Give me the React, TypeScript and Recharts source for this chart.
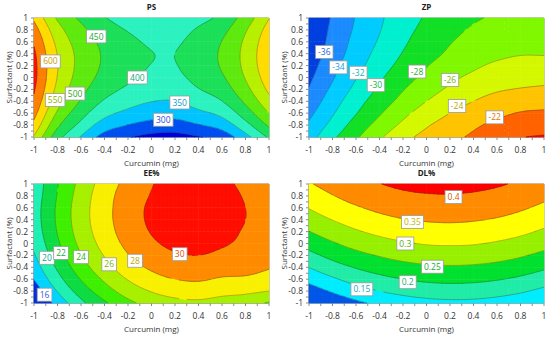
import React, { useMemo } from 'react';
import { ScatterChart, Scatter, XAxis, YAxis, ReferenceArea } from 'recharts';

// grid columns (Curcumin) and rows (Surfactant, top to bottom)
const xVals = [-1, -0.8, -0.6, -0.4, -0.2, 0, 0.2, 0.4, 0.6, 0.8, 1];
const yVals = [1, 0.8, 0.6, 0.4, 0.2, 0, -0.2, -0.4, -0.6, -0.8, -1];
const axisTicks = [-1, -0.9, -0.8, -0.7, -0.6, -0.5, -0.4, -0.3, -0.2, -0.1, 0, 0.1, 0.2, 0.3, 0.4, 0.5, 0.6, 0.7, 0.8, 0.9, 1];
const tickLabels = [-1, -0.8, -0.6, -0.4, -0.2, 0, 0.2, 0.4, 0.6, 0.8, 1];

// PS (nm)
const psGrid = [
  [591, 493, 441, 403, 376, 359, 357, 383, 414, 473, 548],
  [621, 519, 462, 424, 397, 380, 379, 406, 436, 495, 570],
  [643, 537, 476, 438, 411, 394, 393, 420, 451, 509, 584],
  [658, 548, 484, 444, 417, 401, 400, 427, 457, 515, 590],
  [664, 552, 484, 443, 416, 399, 398, 425, 455, 513, 588],
  [664, 548, 478, 435, 408, 391, 390, 415, 444, 503, 578],
  [655, 537, 465, 419, 392, 375, 373, 398, 426, 485, 560],
  [639, 519, 446, 395, 368, 351, 349, 372, 399, 459, 534],
  [616, 493, 419, 365, 338, 321, 318, 339, 364, 425, 500],
  [585, 460, 386, 326, 299, 282, 279, 297, 321, 383, 458],
  [546, 420, 346, 280, 253, 236, 232, 247, 269, 333, 408],
];
const psLevels = [250, 300, 350, 400, 450, 500, 550, 600, 650];
const psLabels = [
  { x: -0.47, y: 0.69, t: '450' },
  { x: -0.86, y: 0.27, t: '600' },
  { x: -0.82, y: -0.38, t: '550' },
  { x: -0.65, y: -0.27, t: '500' },
  { x: -0.12, y: 0, t: '400' },
  { x: 0.24, y: -0.42, t: '350' },
  { x: 0.1, y: -0.71, t: '300' },
];

// ZP (mV)
const zpGrid = [
  [-37.9, -35.8, -33.9, -32.3, -30.9, -29.8, -28.8, -28.2, -27.8, -27.6, -27.6],
  [-37.7, -35.6, -33.7, -32.1, -30.6, -29.5, -28.5, -27.8, -27.4, -27.2, -27.2],
  [-37.5, -35.4, -33.4, -31.8, -30.3, -29.1, -28.1, -27.4, -26.9, -26.7, -26.7],
  [-37.3, -35.1, -33.1, -31.4, -29.9, -28.7, -27.7, -26.9, -26.4, -26.1, -26.1],
  [-36.9, -34.6, -32.7, -30.9, -29.4, -28.1, -27.1, -26.3, -25.7, -25.4, -25.4],
  [-36.4, -34.2, -32.1, -30.3, -28.8, -27.5, -26.4, -25.6, -25.0, -24.7, -24.6],
  [-35.9, -33.6, -31.5, -29.7, -28.1, -26.8, -25.7, -24.8, -24.2, -23.9, -23.7],
  [-35.3, -32.9, -30.8, -29.0, -27.4, -26.0, -24.9, -24.0, -23.3, -22.9, -22.8],
  [-34.5, -32.2, -30.1, -28.2, -26.5, -25.1, -24.0, -23.1, -22.4, -21.9, -21.7],
  [-33.7, -31.4, -29.2, -27.3, -25.6, -24.2, -23.2, -22.3, -21.6, -21.2, -21.0],
  [-32.9, -30.4, -28.3, -26.3, -24.6, -23.4, -22.5, -21.7, -20.9, -20.1, -19.8],
];
const zpLevels = [-36, -34, -32, -30, -28, -26, -24, -22, -20];
const zpLabels = [
  { x: -0.87, y: 0.43, t: '-36' },
  { x: -0.75, y: 0.17, t: '-34' },
  { x: -0.58, y: 0.08, t: '-32' },
  { x: -0.43, y: -0.13, t: '-30' },
  { x: -0.08, y: 0.1, t: '-28' },
  { x: 0.2, y: -0.04, t: '-26' },
  { x: 0.26, y: -0.48, t: '-24' },
  { x: 0.58, y: -0.67, t: '-22' },
];

// EE%
const eeGrid = [
  [18.6, 21.9, 24.6, 26.9, 28.6, 29.9, 30.6, 30.7, 30.4, 29.5, 28.2],
  [18.8, 22.1, 24.9, 27.2, 28.9, 30.1, 30.8, 31.0, 30.7, 29.8, 28.5],
  [19.0, 22.3, 25.1, 27.3, 29.1, 30.3, 31.0, 31.2, 30.8, 30.0, 28.8],
  [19.0, 22.3, 25.1, 27.3, 29.1, 30.3, 31.0, 31.2, 30.8, 30.0, 29.0],
  [18.8, 22.1, 24.9, 27.1, 28.9, 30.1, 30.8, 31.0, 30.6, 29.8, 29.0],
  [18.4, 21.7, 24.5, 26.7, 28.5, 29.7, 30.4, 30.6, 30.2, 29.6, 28.9],
  [17.8, 21.1, 23.9, 26.1, 27.9, 29.1, 29.8, 30.0, 29.6, 29.2, 28.6],
  [17.0, 20.3, 23.1, 25.3, 27.1, 28.3, 29.0, 29.2, 28.8, 28.6, 28.1],
  [16.0, 19.3, 22.1, 24.3, 26.1, 27.3, 28.0, 28.2, 27.8, 27.7, 27.3],
  [14.8, 18.1, 20.9, 23.1, 24.9, 26.1, 26.8, 27.0, 26.6, 26.4, 26.0],
  [13.4, 16.7, 19.5, 21.7, 23.5, 24.7, 25.4, 25.6, 25.2, 24.8, 23.8],
];
const eeLevels = [16, 18, 20, 22, 24, 26, 28, 30];
const eeLabels = [
  { x: -0.91, y: -0.86, t: '16' },
  { x: -0.89, y: -0.24, t: '20' },
  { x: -0.77, y: -0.16, t: '22' },
  { x: -0.6, y: -0.23, t: '24' },
  { x: -0.36, y: -0.35, t: '26' },
  { x: -0.14, y: -0.29, t: '28' },
  { x: 0.24, y: -0.18, t: '30' },
];

// DL%
const dlGrid = [
  [0.346, 0.368, 0.386, 0.399, 0.409, 0.414, 0.415, 0.412, 0.405, 0.393, 0.377],
  [0.325, 0.348, 0.367, 0.381, 0.391, 0.396, 0.397, 0.394, 0.387, 0.376, 0.36],
  [0.302, 0.326, 0.345, 0.36, 0.37, 0.376, 0.378, 0.375, 0.368, 0.356, 0.34],
  [0.277, 0.301, 0.321, 0.337, 0.348, 0.354, 0.356, 0.353, 0.346, 0.334, 0.318],
  [0.249, 0.274, 0.295, 0.311, 0.323, 0.329, 0.332, 0.329, 0.322, 0.31, 0.293],
  [0.219, 0.245, 0.267, 0.283, 0.295, 0.303, 0.305, 0.303, 0.295, 0.283, 0.267],
  [0.186, 0.214, 0.236, 0.253, 0.266, 0.274, 0.276, 0.274, 0.267, 0.255, 0.238],
  [0.151, 0.18, 0.203, 0.221, 0.234, 0.242, 0.245, 0.243, 0.236, 0.224, 0.207],
  [0.114, 0.143, 0.168, 0.186, 0.2, 0.209, 0.212, 0.21, 0.203, 0.191, 0.174],
  [0.075, 0.105, 0.13, 0.15, 0.164, 0.173, 0.177, 0.175, 0.168, 0.156, 0.138],
  [0.033, 0.064, 0.09, 0.11, 0.125, 0.135, 0.139, 0.138, 0.131, 0.118, 0.101],
];
const dlLevels = [0.1, 0.15, 0.2, 0.25, 0.3, 0.35, 0.4];
const dlLabels = [
  { x: 0.23, y: 0.78, t: '0.4' },
  { x: -0.12, y: 0.36, t: '0.35' },
  { x: -0.18, y: 0, t: '0.3' },
  { x: 0.05, y: -0.39, t: '0.25' },
  { x: -0.16, y: -0.65, t: '0.2' },
  { x: -0.55, y: -0.77, t: '0.15' },
];

// styling
const FONT = '"Open Sans", "DejaVu Sans", sans-serif';
const psColors = ['#0000d8', '#0050f0', '#00c4ff', '#2ef2c0', '#1ee05a', '#60ea10', '#b8f000', '#ffdc00', '#ff8000', '#ff1000'];
const zpColors = ['#0040e0', '#1e8cff', '#00ccff', '#00f0d0', '#14e028', '#80f800', '#d4f800', '#ffc400', '#ff6400', '#ff0000'];
const eeColors = ['#0030e0', '#00d4ff', '#20f0b4', '#10dc44', '#40f000', '#a8f000', '#f8f000', '#ff8c00', '#ff1000'];
const dlColors = ['#0058e8', '#00ecff', '#22eca8', '#00e030', '#98f000', '#ffff00', '#ff8c00', '#ff0000'];
const psText = { '300': '#1f4fd8', '350': '#0aa0d0', '400': '#14a878', '450': '#1fa83a', '500': '#2fa81f', '550': '#8cb400', '600': '#c9a000' };
const zpText = { '-36': '#1e5fe0', '-34': '#1a9be0', '-32': '#10b0b8', '-30': '#10b050', '-28': '#28b028', '-26': '#72b800', '-24': '#b0a800', '-22': '#e07800' };
const eeText = { '16': '#1e5fe0', '20': '#10a890', '22': '#18b040', '24': '#30b020', '26': '#80b400', '28': '#c0a800', '30': '#e05000' };
const dlText = { '0.4': '#d06000', '0.35': '#c8b000', '0.3': '#58b000', '0.25': '#10b030', '0.2': '#10b070', '0.15': '#10a8c8' };

// panel geometry
const W = 275;
const H = 172;
const Y_W = 34;
const X_H = 35;
const MARGIN = { top: 18, right: 6, bottom: 0, left: 0 };
const PW = W - Y_W - MARGIN.right;
const PH = H - MARGIN.top - X_H;
const NC = xVals.length - 1;
const SUB = 6;

// one scatter point per grid cell, drawn as a filled patch
const cells: { x: number; y: number; row: number; col: number }[] = [];
for (let r = 0; r < NC; r++) {
  for (let c = 0; c < NC; c++) {
    cells.push({ x: (xVals[c] + xVals[c + 1]) / 2, y: (yVals[r] + yVals[r + 1]) / 2, row: r, col: c });
  }
}

function catmull(p0: number, p1: number, p2: number, p3: number, t: number) {
  return p1 + 0.5 * t * (p2 - p0 + t * (2 * p0 - 5 * p1 + 4 * p2 - p3 + t * (3 * (p1 - p2) + p3 - p0)));
}

function gridAt(g: number[][], r: number, c: number): number {
  const n = g.length;
  const m = g[0].length;
  if (r < 0) return 2 * gridAt(g, 0, c) - gridAt(g, 1, c);
  if (r > n - 1) return 2 * gridAt(g, n - 1, c) - gridAt(g, n - 2, c);
  if (c < 0) return 2 * gridAt(g, r, 0) - gridAt(g, r, 1);
  if (c > m - 1) return 2 * gridAt(g, r, m - 1) - gridAt(g, r, m - 2);
  return g[r][c];
}

// smooth surface for drawing the patches
function refine(g: number[][]) {
  const n = NC * SUB + 1;
  const out: number[][] = [];
  for (let a = 0; a < n; a++) {
    const v = a / SUB;
    const r = Math.min(Math.floor(v), NC - 1);
    const tv = v - r;
    const row: number[] = [];
    for (let b = 0; b < n; b++) {
      const u = b / SUB;
      const c = Math.min(Math.floor(u), NC - 1);
      const tu = u - c;
      const col = [-1, 0, 1, 2].map((k) =>
        catmull(gridAt(g, r + k, c - 1), gridAt(g, r + k, c), gridAt(g, r + k, c + 1), gridAt(g, r + k, c + 2), tu)
      );
      row.push(catmull(col[0], col[1], col[2], col[3], tv));
    }
    out.push(row);
  }
  return out;
}

type Pt = [number, number, number];

function bandOf(v: number, levels: number[]) {
  let k = 0;
  while (k < levels.length && v >= levels[k]) k++;
  return k;
}

function clip(poly: Pt[], lev: number, above: boolean): Pt[] {
  const out: Pt[] = [];
  for (let k = 0; k < poly.length; k++) {
    const a = poly[k];
    const b = poly[(k + 1) % poly.length];
    const ina = above ? a[2] >= lev : a[2] <= lev;
    const inb = above ? b[2] >= lev : b[2] <= lev;
    if (ina) out.push(a);
    if (ina !== inb) {
      const t = (lev - a[2]) / (b[2] - a[2]);
      out.push([a[0] + t * (b[0] - a[0]), a[1] + t * (b[1] - a[1]), lev]);
    }
  }
  return out;
}

const f2 = (n: number) => n.toFixed(2);

function subQuads(fine: number[][], cx: number, cy: number, row: number, col: number) {
  const cw = PW / NC;
  const ch = PH / NC;
  const x0 = cx - cw / 2;
  const y0 = cy - ch / 2;
  const quads: Pt[][] = [];
  for (let p = 0; p < SUB; p++) {
    for (let q = 0; q < SUB; q++) {
      const a = row * SUB + p;
      const b = col * SUB + q;
      const X0 = x0 + (q * cw) / SUB;
      const X1 = x0 + ((q + 1) * cw) / SUB;
      const Y0 = y0 + (p * ch) / SUB;
      const Y1 = y0 + ((p + 1) * ch) / SUB;
      quads.push([
        [X0, Y0, fine[a][b]],
        [X1, Y0, fine[a][b + 1]],
        [X1, Y1, fine[a + 1][b + 1]],
        [X0, Y1, fine[a + 1][b]],
      ]);
    }
  }
  return quads;
}

function makeFill(fine: number[][], levels: number[], colors: string[]) {
  return (props: any) => {
    const { cx, cy, payload } = props;
    const paths: string[] = colors.map(() => '');
    for (const qd of subQuads(fine, cx, cy, payload.row, payload.col)) {
      const bs = qd.map((pt) => bandOf(pt[2], levels));
      if (bs.every((b) => b === bs[0])) {
        paths[bs[0]] += 'M' + qd.map((pt) => f2(pt[0]) + ',' + f2(pt[1])).join('L') + 'Z';
        continue;
      }
      for (const tri of [[qd[0], qd[1], qd[2]], [qd[0], qd[2], qd[3]]] as Pt[][]) {
        const tb = tri.map((pt) => bandOf(pt[2], levels));
        for (let k = Math.min(...tb); k <= Math.max(...tb); k++) {
          let poly = tri;
          if (k > 0) poly = clip(poly, levels[k - 1], true);
          if (k < levels.length) poly = clip(poly, levels[k], false);
          if (poly.length >= 3) paths[k] += 'M' + poly.map((pt) => f2(pt[0]) + ',' + f2(pt[1])).join('L') + 'Z';
        }
      }
    }
    return (
      <g>
        {paths.map((d, k) =>
          d ? <path key={k} d={d} fill={colors[k]} stroke={colors[k]} strokeWidth={0.5} strokeLinejoin="round" /> : null
        )}
      </g>
    );
  };
}

function makeLines(fine: number[][], levels: number[]) {
  return (props: any) => {
    const { cx, cy, payload } = props;
    let d = '';
    for (const qd of subQuads(fine, cx, cy, payload.row, payload.col)) {
      for (const tri of [[qd[0], qd[1], qd[2]], [qd[0], qd[2], qd[3]]] as Pt[][]) {
        const vs = tri.map((pt) => pt[2]);
        const lo = Math.min(...vs);
        const hi = Math.max(...vs);
        for (const lev of levels) {
          if (lev <= lo || lev >= hi) continue;
          const pts: number[][] = [];
          for (let e = 0; e < 3; e++) {
            const a = tri[e];
            const b = tri[(e + 1) % 3];
            if ((a[2] - lev) * (b[2] - lev) < 0) {
              const t = (lev - a[2]) / (b[2] - a[2]);
              pts.push([a[0] + t * (b[0] - a[0]), a[1] + t * (b[1] - a[1])]);
            }
          }
          if (pts.length === 2) d += `M${f2(pts[0][0])},${f2(pts[0][1])}L${f2(pts[1][0])},${f2(pts[1][1])}`;
        }
      }
    }
    return d ? <path d={d} fill="none" stroke="#2a2a2a" strokeOpacity={0.55} strokeWidth={0.6} /> : <g />;
  };
}

function textWidth(t: string, size: number) {
  let w = 0;
  for (const ch of t) w += ch === '-' ? 0.322 : ch === '.' ? 0.267 : 0.572;
  return w * size;
}

function makeLabel(textColors: Record<string, string>) {
  return (props: any) => {
    const { cx, cy, payload } = props;
    const w = textWidth(payload.t, 8.5) + 5;
    return (
      <g>
        <rect x={cx - w / 2} y={cy - 6.5} width={w} height={13} fill="#fff" stroke="#9a9a9a" strokeWidth={0.8} />
        <text x={cx} y={cy} dy="0.36em" textAnchor="middle" fontSize={8.5} fontFamily={FONT} fill={textColors[payload.t]}>
          {payload.t}
        </text>
      </g>
    );
  };
}

const fmtTick = (v: number) => (tickLabels.includes(v) ? String(v) : '');

type PanelProps = {
  title: string;
  grid: number[][];
  levels: number[];
  colors: string[];
  labels: { x: number; y: number; t: string }[];
  textColors: Record<string, string>;
  left: number;
  top: number;
};

function Panel({ title, grid, levels, colors, labels, textColors, left, top }: PanelProps) {
  const fine = useMemo(() => refine(grid), [grid]);
  const fillShape = useMemo(() => makeFill(fine, levels, colors), [fine, levels, colors]);
  const lineShape = useMemo(() => makeLines(fine, levels), [fine, levels]);
  const labelShape = useMemo(() => makeLabel(textColors), [textColors]);
  const axisStyle = { stroke: '#8c8c8c' };
  const tickStyle = { fontSize: 8.5, fill: '#333', fontFamily: FONT };
  return (
    <div style={{ position: 'absolute', left, top, width: W, height: H }}>
      <div
        style={{
          position: 'absolute',
          left: Y_W,
          width: PW,
          top: 2,
          lineHeight: '10px',
          textAlign: 'center',
          fontSize: 8,
          fontWeight: 700,
          fontFamily: FONT,
          color: '#222',
        }}
      >
        {title}
      </div>
      <ScatterChart width={W} height={H} margin={MARGIN}>
        <XAxis
          type="number"
          dataKey="x"
          domain={[-1, 1]}
          ticks={axisTicks}
          interval={0}
          tickFormatter={fmtTick}
          height={X_H}
          tickSize={3}
          tickMargin={7}
          tick={tickStyle}
          axisLine={axisStyle}
          tickLine={axisStyle}
          label={(p: any) => (
            <text
              x={p.viewBox.x + p.viewBox.width / 2}
              y={p.viewBox.y + 25.5}
              textAnchor="middle"
              dominantBaseline="central"
              fontSize={8}
              fontFamily={FONT}
              fill="#333"
            >
              Curcumin (mg)
            </text>
          )}
        />
        <YAxis
          type="number"
          dataKey="y"
          domain={[-1, 1]}
          ticks={axisTicks}
          interval={0}
          tickFormatter={fmtTick}
          width={Y_W}
          tickSize={3}
          tickMargin={3}
          tick={tickStyle}
          axisLine={axisStyle}
          tickLine={axisStyle}
          label={(p: any) => {
            const cx = 8;
            const cy = p.viewBox.y + p.viewBox.height / 2;
            return (
              <text
                x={cx}
                y={cy}
                transform={`rotate(-90 ${cx} ${cy})`}
                textAnchor="middle"
                dominantBaseline="central"
                fontSize={8}
                fontFamily={FONT}
                fill="#333"
              >
                Surfactant (%)
              </text>
            );
          }}
        />
        <Scatter data={cells} shape={fillShape} isAnimationActive={false} />
        <Scatter data={cells} shape={lineShape} isAnimationActive={false} />
        <ReferenceArea x1={-1} x2={1} y1={-1} y2={1} fill="none" stroke="#8c8c8c" strokeWidth={1} />
        <Scatter data={labels} shape={labelShape} isAnimationActive={false} />
      </ScatterChart>
    </div>
  );
}

export default function App() {
  return (
    <div style={{ position: 'absolute', left: 0, top: 0, width: 550, height: 343, background: '#fff', overflow: 'hidden' }}>
      <Panel title="PS" grid={psGrid} levels={psLevels} colors={psColors} labels={psLabels} textColors={psText} left={0} top={0} />
      <Panel title="ZP" grid={zpGrid} levels={zpLevels} colors={zpColors} labels={zpLabels} textColors={zpText} left={275} top={0} />
      <Panel title="EE%" grid={eeGrid} levels={eeLevels} colors={eeColors} labels={eeLabels} textColors={eeText} left={0} top={166} />
      <Panel title="DL%" grid={dlGrid} levels={dlLevels} colors={dlColors} labels={dlLabels} textColors={dlText} left={275} top={166} />
    </div>
  );
}
